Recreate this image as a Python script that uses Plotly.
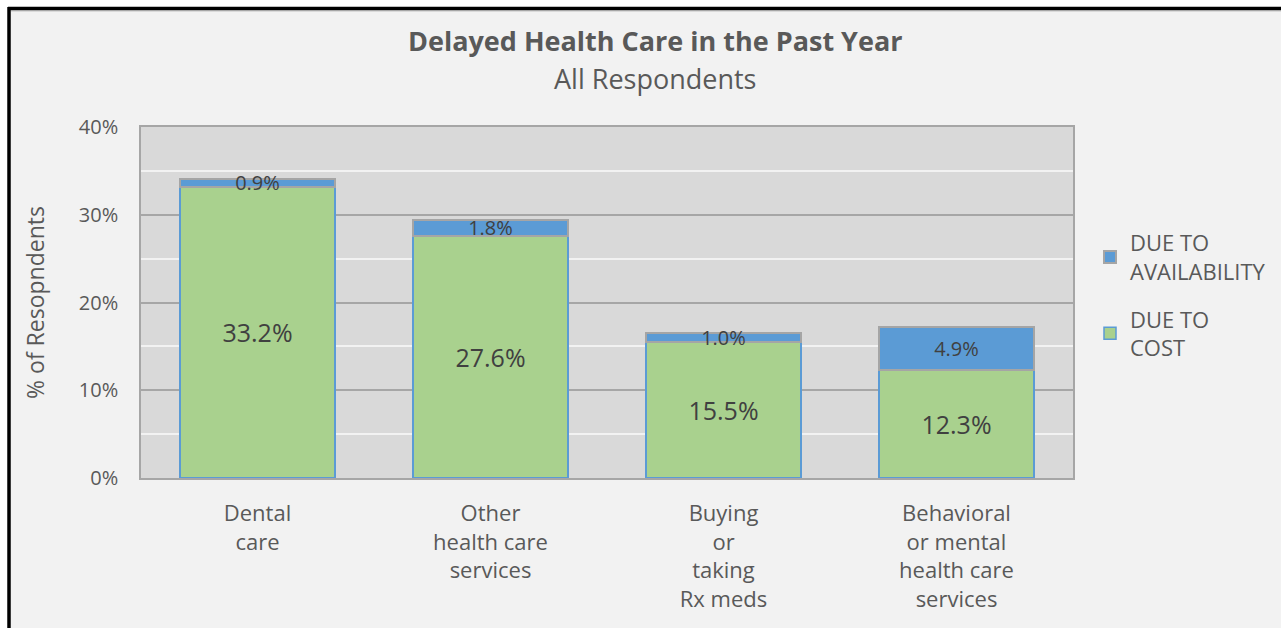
import plotly.graph_objects as go

categories = ["Dental<br>care", "Other<br>health care<br>services", "Buying<br>or<br>taking<br>Rx meds", "Behavioral<br>or mental<br>health care<br>services"]
due_to_cost = [33.2, 27.6, 15.5, 12.3]
due_to_availability = [0.9, 1.8, 1.0, 4.9]
y_ticks = [0, 10, 20, 30, 40]
y_tick_labels = ["0%", "10%", "20%", "30%", "40%"]

W, H = 1281, 628
L, R, T, B = 141, 1073, 127, 478
FONT = "Segoe UI, Open Sans, sans-serif"
TXT = "#595959"

def px_x(px):
    return (px - L) / (R - L)

def px_y(py):
    return (B - py) / (B - T)

fig = go.Figure()
fig.add_trace(go.Bar(
    x=categories, y=due_to_cost, name="DUE TO<br>COST", legendgroup="cost", legendrank=2,
    marker=dict(color="#a9d18e", line=dict(color="#5b9bd5", width=1.5)),
    text=[f"{v:.1f}%" for v in due_to_cost], textposition="inside",
    insidetextanchor="middle", constraintext="none", textangle=0,
    textfont=dict(size=25, color="#404040", family=FONT),
    width=0.665, hoverinfo="skip",
))
fig.add_trace(go.Bar(
    x=categories, y=due_to_availability, name="DUE TO<br>AVAILABILITY", legendgroup="avail", legendrank=1,
    marker=dict(color="#5b9bd5", line=dict(color="#a5a5a5", width=2)),
    text=[f"{v:.1f}%" for v in due_to_availability], textposition="inside",
    insidetextanchor="middle", constraintext="none", textangle=0,
    textfont=dict(size=20, color="#404040", family=FONT),
    width=0.665, hoverinfo="skip",
))

shapes = [
    dict(type="rect", xref="paper", yref="paper", x0=px_x(0), x1=px_x(W), y0=px_y(0), y1=px_y(8), fillcolor="white", line=dict(width=0), layer="below"),
    dict(type="rect", xref="paper", yref="paper", x0=px_x(0), x1=px_x(8), y0=px_y(H), y1=px_y(0), fillcolor="white", line=dict(width=0), layer="below"),
    dict(type="line", xref="paper", yref="paper", x0=px_x(8), x1=px_x(W), y0=px_y(8.5), y1=px_y(8.5), line=dict(color="black", width=3.5)),
    dict(type="line", xref="paper", yref="paper", x0=px_x(9), x1=px_x(9), y0=px_y(7), y1=px_y(H), line=dict(color="black", width=3.5)),
    dict(type="line", xref="paper", yref="paper", x0=px_x(11), x1=px_x(W), y0=px_y(10.8), y1=px_y(10.8), line=dict(color="#a0a0a0", width=1)),
]

annotations = [
    dict(text="<b>Delayed Health Care in the Past Year</b>", x=px_x(655), y=px_y(40), xref="paper", yref="paper",
         showarrow=False, xanchor="center", yanchor="middle", font=dict(size=27, color=TXT, family=FONT)),
    dict(text="All Respondents", x=px_x(655), y=px_y(78), xref="paper", yref="paper",
         showarrow=False, xanchor="center", yanchor="middle", font=dict(size=27, color=TXT, family=FONT)),
]

fig.update_layout(
    width=W, height=H,
    margin=dict(l=L, r=W - R, t=T, b=H - B, autoexpand=False),
    barmode="stack",
    paper_bgcolor="#f2f2f2",
    plot_bgcolor="#d9d9d9",
    font=dict(family=FONT, color=TXT),
    showlegend=True,
    legend=dict(x=px_x(1090), y=px_y(222), xanchor="left", yanchor="top",
                traceorder="grouped", bgcolor="rgba(0,0,0,0)",
                font=dict(size=22, color=TXT, family=FONT), tracegroupgap=16),
    shapes=shapes,
    annotations=annotations,
)
fig.update_xaxes(
    range=[-0.5, 3.5], showgrid=False, zeroline=False,
    showline=True, linecolor="#a6a6a6", linewidth=1.5, mirror=True,
    tickfont=dict(size=22, color=TXT, family=FONT), ticks="", ticklabelstandoff=15,
)
fig.update_yaxes(
    range=[0, 40], tickvals=y_ticks, ticktext=y_tick_labels,
    showgrid=True, gridcolor="#a6a6a6", gridwidth=1.5, zeroline=False,
    minor=dict(dtick=5, showgrid=True, gridcolor="#f2f2f2", gridwidth=2, ticks=""),
    showline=True, linecolor="#a6a6a6", linewidth=1.5, mirror=True,
    tickfont=dict(size=20, color=TXT, family=FONT), ticks="", ticklabelstandoff=17,
    title=dict(text="% of Resopndents", font=dict(size=23, color=TXT, family=FONT), standoff=28),
)

fig.write_html("out.html", config={"displayModeBar": False},
               post_script="document.body.style.margin='0';document.body.style.overflow='hidden';")
